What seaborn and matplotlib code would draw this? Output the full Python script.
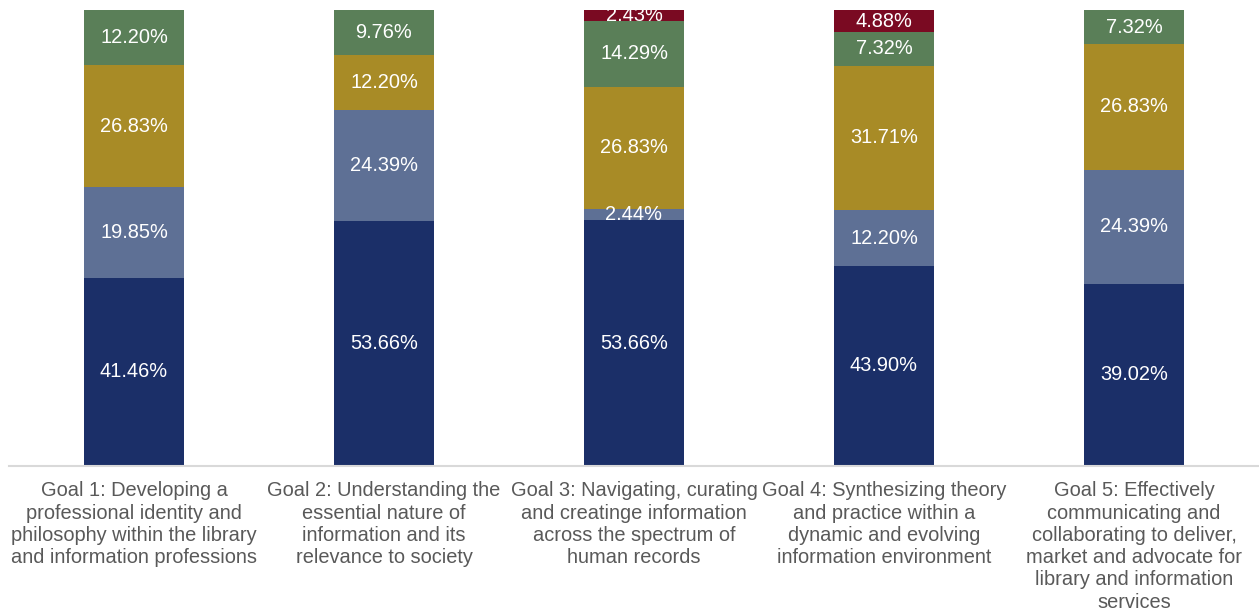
import numpy as np
import pandas as pd
import matplotlib
matplotlib.use("Agg")
import matplotlib.pyplot as plt
import seaborn as sns

goals = [
    "Goal 1: Developing a\nprofessional identity and\nphilosophy within the library\nand information professions",
    "Goal 2: Understanding the\nessential nature of\ninformation and its\nrelevance to society",
    "Goal 3: Navigating, curating\nand creatinge information\nacross the spectrum of\nhuman records",
    "Goal 4: Synthesizing theory\nand practice within a\ndynamic and evolving\ninformation environment",
    "Goal 5: Effectively\ncommunicating and\ncollaborating to deliver,\nmarket and advocate for\nlibrary and information\nservices",
]

# percentage per rating level, bottom to top
level_1 = [41.46, 53.66, 53.66, 43.90, 39.02]
level_2 = [19.85, 24.39, 2.44, 12.20, 24.39]
level_3 = [26.83, 12.20, 26.83, 31.71, 26.83]
level_4 = [12.20, 9.76, 14.29, 7.32, 7.32]
level_5 = [0.00, 0.00, 2.43, 4.88, 0.00]

colors = ["#1B2F68", "#5E7095", "#A88B26", "#5A7F58", "#7A0A22"]

sns.set_theme(style="white")
plt.rcParams["font.family"] = ["Liberation Sans", "DejaVu Sans"]

df = pd.DataFrame({"goal": goals, "l1": level_1, "l2": level_2,
                   "l3": level_3, "l4": level_4, "l5": level_5})
cols = ["l1", "l2", "l3", "l4", "l5"]
# 100% stacked: normalise each bar
shares = df[cols].div(df[cols].sum(axis=1), axis=0)
cum = shares.cumsum(axis=1)

fig = plt.figure(figsize=(12.59, 6.16), dpi=100)
ax = fig.add_axes([9 / 1259, 150 / 616, 1250 / 1259, 456 / 616])

# draw cumulative totals from the top down so the bars overlap into stacks
for i in range(len(cols) - 1, -1, -1):
    sns.barplot(x=df["goal"], y=cum[cols[i]], color=colors[i], width=0.4,
                saturation=1, ax=ax, order=goals, linewidth=0, edgecolor="none")

# value labels centred in each segment
for j in range(len(goals)):
    base = 0
    for i, c in enumerate(cols):
        h = shares.loc[j, c]
        if df.loc[j, c] > 0:
            ax.text(j, base + h / 2, f"{df.loc[j, c]:.2f}%", ha="center",
                    va="center", color="white", fontsize=14.4)
        base += h

ax.set_xlim(-0.5, 4.5)
ax.set_ylim(0, 1)
ax.set_xlabel("")
ax.set_ylabel("")
ax.set_yticks([])
for s in ["top", "left", "right"]:
    ax.spines[s].set_visible(False)
ax.spines["bottom"].set_color("#D9D9D9")
ax.spines["bottom"].set_linewidth(1.5)
ax.tick_params(axis="x", length=0, pad=11, labelsize=14.4, labelcolor="#595959")
for lab in ax.get_xticklabels():
    lab.set_linespacing(1.22)

fig.savefig("out.png", dpi=100)
